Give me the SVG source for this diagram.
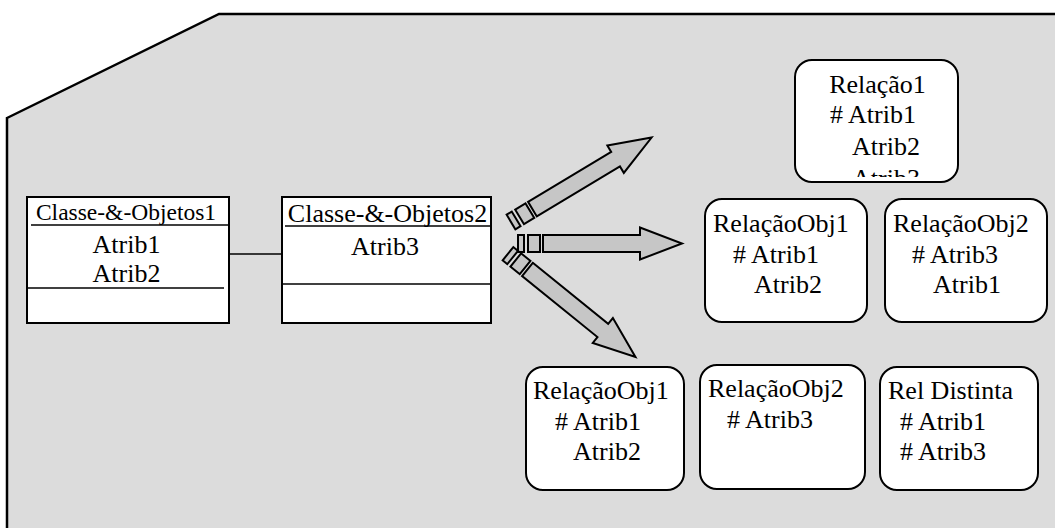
<svg xmlns="http://www.w3.org/2000/svg" width="1055" height="528" viewBox="0 0 1055 528">
  <style>
    .t { font-family: "Times New Roman", "Liberation Serif", Tinos, "Noto Serif", "DejaVu Serif", serif; font-size: 26px; fill: #000; }
    .box { fill: #fff; stroke: #000; stroke-width: 2; }
    .rel { fill: #fff; stroke: #000; stroke-width: 2; }
    .ln { stroke: #000; stroke-width: 1.6; fill: none; }
    .arr { fill: #c6c6c6; stroke: #000; stroke-width: 2; stroke-linejoin: miter; }
  </style>
  <defs>
    <!-- striped block arrow, pointing along +x, origin at the first stripe -->
    <g id="striped-arrow">
      <rect class="arr" x="0" y="-8.5" width="6" height="17"/>
      <rect class="arr" x="10" y="-8.5" width="12" height="17"/>
      <polygon class="arr" points="25,-8.5 122,-8.5 122,-16 164,0 122,16 122,8.5 25,8.5"/>
    </g>
    <clipPath id="rel1-clip">
      <rect x="790" y="55" width="175" height="122"/>
    </clipPath>
  </defs>

  <!-- background panel -->
  <polygon points="7,118 219,14 1060,14 1060,540 7,540" fill="#dcdcdc" stroke="#000" stroke-width="2.5"/>

  <!-- connectors -->
  <g id="connectors">
    <line class="ln" x1="229" y1="254" x2="283" y2="254"/>
    <use href="#striped-arrow" transform="translate(511,222) rotate(-31)"/>
    <use href="#striped-arrow" transform="translate(518,243.5)"/>
    <use href="#striped-arrow" transform="translate(508,253.7) rotate(39)"/>
  </g>

  <g id="classe-objetos1">
    <rect class="box" x="27" y="197" width="202" height="126"/>
    <text class="t" x="126" y="220" text-anchor="middle" style="font-size:23.5px">Classe-&amp;-Objetos1</text>
    <line class="ln" x1="31" y1="225" x2="228" y2="225"/>
    <text class="t" x="126.5" y="253" text-anchor="middle">Atrib1</text>
    <text class="t" x="126.5" y="282" text-anchor="middle">Atrib2</text>
    <line class="ln" x1="27" y1="288" x2="224" y2="288"/>
  </g>

  <g id="classe-objetos2">
    <rect class="box" x="282" y="197" width="209" height="126"/>
    <text class="t" x="387.5" y="222" text-anchor="middle">Classe-&amp;-Objetos2</text>
    <line class="ln" x1="285" y1="226" x2="490" y2="226"/>
    <text class="t" x="385" y="255" text-anchor="middle">Atrib3</text>
    <line class="ln" x1="282" y1="284" x2="491" y2="284"/>
  </g>

  <g id="relacao1">
    <rect class="rel" x="795" y="60" width="163" height="122" rx="17"/>
    <g clip-path="url(#rel1-clip)">
      <text class="t" x="877.5" y="93" text-anchor="middle">Relação1</text>
      <text class="t" x="830" y="123"># Atrib1</text>
      <text class="t" x="852" y="155">Atrib2</text>
      <text class="t" x="852" y="187">Atrib3</text>
    </g>
  </g>

  <g id="relacaoobj1-a">
    <rect class="rel" x="705" y="199" width="162" height="123" rx="17"/>
    <text class="t" x="713" y="232">RelaçãoObj1</text>
    <text class="t" x="733" y="263"># Atrib1</text>
    <text class="t" x="754" y="293">Atrib2</text>
  </g>

  <g id="relacaoobj2-a">
    <rect class="rel" x="885" y="199" width="162" height="123" rx="17"/>
    <text class="t" x="893" y="232">RelaçãoObj2</text>
    <text class="t" x="912" y="263"># Atrib3</text>
    <text class="t" x="933" y="293">Atrib1</text>
  </g>

  <g id="relacaoobj1-b">
    <rect class="rel" x="526" y="367" width="158" height="123" rx="17"/>
    <text class="t" x="533" y="399">RelaçãoObj1</text>
    <text class="t" x="555" y="430"># Atrib1</text>
    <text class="t" x="573" y="460">Atrib2</text>
  </g>

  <g id="relacaoobj2-b">
    <rect class="rel" x="700" y="365" width="165" height="124" rx="17"/>
    <text class="t" x="708" y="397">RelaçãoObj2</text>
    <text class="t" x="727" y="428"># Atrib3</text>
  </g>

  <g id="rel-distinta">
    <rect class="rel" x="880" y="367" width="158" height="123" rx="17"/>
    <text class="t" x="888" y="399">Rel Distinta</text>
    <text class="t" x="900" y="430"># Atrib1</text>
    <text class="t" x="900" y="460"># Atrib3</text>
  </g>
</svg>
